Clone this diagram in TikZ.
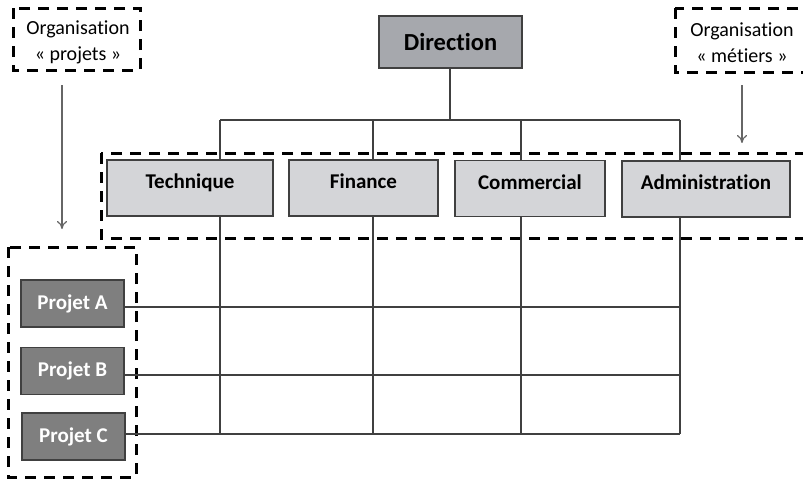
\documentclass[tikz,border=0pt]{standalone}
\usepackage{fontspec}
\setmainfont{Carlito}[Ligatures=NoCommon]
\usetikzlibrary{arrows.meta}
\definecolor{dirfill}{RGB}{166,168,173}
\definecolor{depfill}{RGB}{212,213,216}
\definecolor{projfill}{RGB}{127,127,127}
\definecolor{edge}{RGB}{64,64,64}
\tikzset{
  box/.style={draw=edge, line width=1.4pt, inner sep=0pt, font=\bfseries},
  dirbox/.style={box, fill=dirfill, minimum width=143pt, minimum height=52pt, font=\fontsize{24.5}{26}\selectfont\bfseries},
  depbox/.style={box, fill=depfill, minimum height=56pt, text height=13.5pt, text depth=12pt, font=\fontsize{21}{23}\selectfont\bfseries},
  projbox/.style={box, fill=projfill, text=white, minimum width=103pt, minimum height=47pt, font=\fontsize{21}{23}\selectfont\bfseries},
  dashbox/.style={draw=black, line width=3pt, dash pattern=on 11pt off 8pt},
  link/.style={draw=edge, line width=1.4pt},
  orgtext/.style={align=center, inner sep=0pt, font=\fontsize{20}{26}\selectfont},
  orgarrow/.style={draw=edge!80, line width=1.2pt, -{To[length=8pt,width=10pt]}}
}
\begin{document}
\begin{tikzpicture}[x=1pt,y=-1pt]
\useasboundingbox (0,0) rectangle (803,480);
\clip (0,0) rectangle (803,480);
% dashed groups
\draw[dashbox] (13,8) rectangle (140,70);
\draw[dashbox] (675,8) rectangle (815,72);
\draw[dashbox] (101,153) rectangle (815,238);
\draw[dashbox] (8,247) rectangle (136,477);
% organisation labels
\node[orgtext] (orgp) at (78,42) {Organisation\\« projets »};
\node[orgtext] (orgm) at (742,43) {Organisation\\« métiers »};
% arrows
\coordinate (ap1) at (62,85);
\coordinate (ap2) at (62,229);
\coordinate (am1) at (742,85);
\coordinate (am2) at (742,143);
\draw[orgarrow] (ap1) -- (ap2);
\draw[orgarrow] (am1) -- (am2);
% boxes
\node[dirbox] (dir) at (450.5,42) {Direction};
\node[depbox, minimum width=166pt] (tech) at (190,188) {Technique};
\node[depbox, minimum width=149pt] (fin) at (363.5,188) {Finance};
\node[depbox, minimum width=150pt] (com) at (530,188.5) {Commercial};
\node[depbox, minimum width=168pt] (adm) at (706,189) {Administration};
\node[projbox] (pa) at (72.5,303.5) {Projet A};
\node[projbox] (pb) at (72.5,371) {Projet B};
\node[projbox] (pc) at (73.5,436.5) {Projet C};
% hierarchy lines
\coordinate (bus) at (450,120);
\coordinate (b1) at (220,120);
\coordinate (b2) at (373,120);
\coordinate (b3) at (521,120);
\coordinate (b4) at (680,120);
\draw[link] (dir.south -| bus) -- (bus);
\draw[link] (b1) -- (b4);
\draw[link] (b1) -- (b1 |- tech.north);
\draw[link] (b2) -- (b2 |- fin.north);
\draw[link] (b3) -- (b3 |- com.north);
\draw[link] (b4) -- (b4 |- adm.north);
% matrix grid
\coordinate (g1) at (220,434);
\coordinate (g2) at (373,434);
\coordinate (g3) at (521,434);
\coordinate (g4) at (680,434);
\coordinate (ra) at (680,307);
\coordinate (rb) at (680,375);
\draw[link] (g1 |- tech.south) -- (g1);
\draw[link] (g2 |- fin.south) -- (g2);
\draw[link] (g3 |- com.south) -- (g3);
\draw[link] (g4 |- adm.south) -- (g4);
\draw[link] (pa.east |- ra) -- (ra);
\draw[link] (pb.east |- rb) -- (rb);
\draw[link] (pc.east |- g4) -- (g4);
\end{tikzpicture}
\end{document}
